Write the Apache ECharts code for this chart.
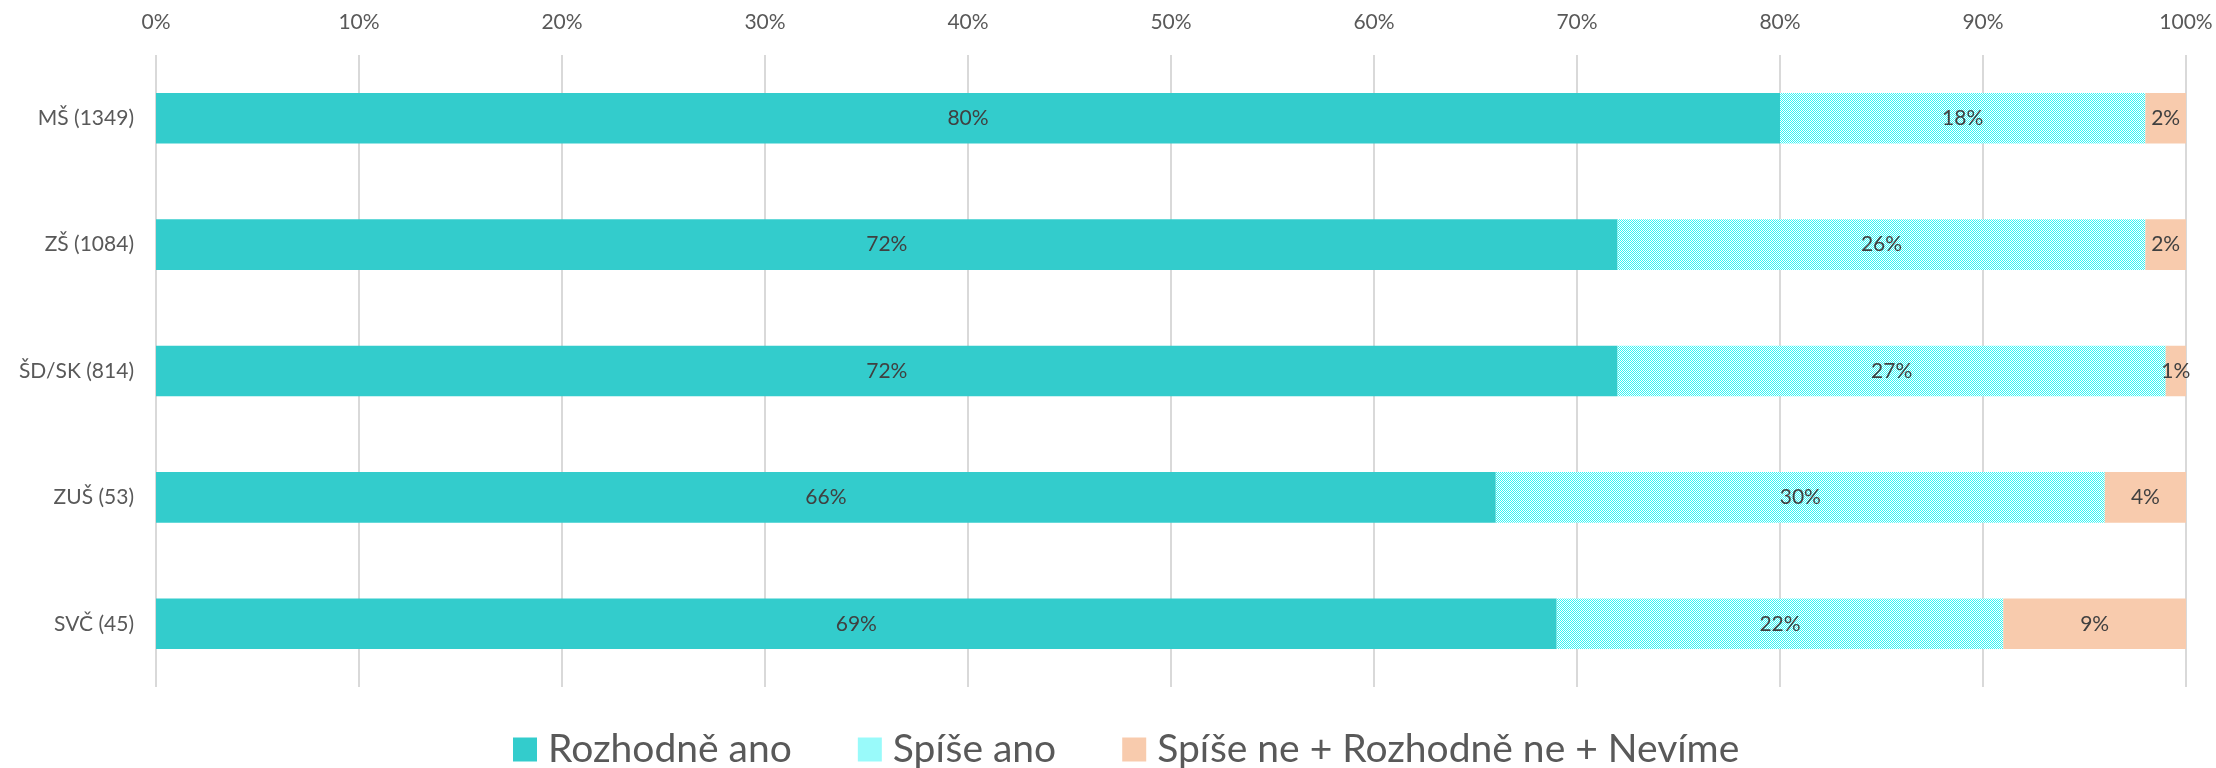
<!DOCTYPE html>
<html>
<head>
<meta charset="utf-8">
<script src="https://cdn.jsdelivr.net/npm/echarts@6/dist/echarts.min.js"></script>
<style>
html,body{margin:0;padding:0;background:#fff;}
#chart{width:2216px;height:768px;}
</style>
</head>
<body>
<div id="chart"></div>
<script>
var categories = ['MŠ (1349)', 'ZŠ (1084)', 'ŠD/SK (814)', 'ZUŠ (53)', 'SVČ (45)'];
var seriesNames = ['Rozhodně ano', 'Spíše ano', 'Spíše ne + Rozhodně ne + Nevíme'];
var rozhodneAno = [80, 72, 72, 66, 69];
var spiseAno = [18, 26, 27, 30, 22];
var ostatni = [2, 2, 1, 4, 9];
var tickLabels = ['0%','10%','20%','30%','40%','50%','60%','70%','80%','90%','100%'];

// checkerboard pattern for "Spíše ano"
function makePattern() {
    var c = document.createElement('canvas');
    c.width = 4; c.height = 4;
    var ctx = c.getContext('2d');
    ctx.fillStyle = '#ffffff';
    ctx.fillRect(0, 0, 4, 4);
    ctx.fillStyle = '#33f5f5';
    for (var y = 0; y < 4; y++) {
        for (var x = 0; x < 4; x++) {
            if ((x + y) % 2 === 0) ctx.fillRect(x, y, 1, 1);
        }
    }
    return c;
}
var pattern = {image: makePattern(), repeat: 'repeat'};

var font = 'Lato, "Open Sans", sans-serif';
var labelStyle = {
    show: true,
    position: 'inside',
    formatter: '{c}%',
    color: '#404040',
    fontSize: 21,
    fontFamily: font
};

var chart = echarts.init(document.getElementById('chart'));
chart.setOption({
    animation: false,
    textStyle: {fontFamily: font},
    grid: {left: 156, right: 30, top: 55, bottom: 81},
    legend: {
        top: 725,
        left: 508,
        itemWidth: 24,
        itemHeight: 24,
        itemGap: 66,
        icon: 'rect',
        textStyle: {fontSize: 39, color: '#595959', fontFamily: font, padding: [0, 0, 0, 6]},
        data: seriesNames
    },
    xAxis: {
        type: 'value',
        position: 'top',
        min: 0,
        max: 100,
        interval: 10,
        axisLine: {show: false},
        axisTick: {show: false},
        axisLabel: {
            color: '#595959',
            fontSize: 21,
            margin: 22,
            formatter: function (v) { return tickLabels[Math.round(v / 10)]; }
        },
        splitLine: {lineStyle: {color: '#d9d9d9', width: 2}}
    },
    yAxis: {
        type: 'category',
        inverse: true,
        data: categories,
        axisLine: {show: false},
        axisTick: {show: false},
        axisLabel: {color: '#595959', fontSize: 21, margin: 22}
    },
    series: [
        {name: seriesNames[0], type: 'bar', stack: 'a', barWidth: '40%',
         data: rozhodneAno, itemStyle: {color: '#33cccc'}, label: labelStyle},
        {name: seriesNames[1], type: 'bar', stack: 'a',
         data: spiseAno, itemStyle: {color: pattern}, label: labelStyle},
        {name: seriesNames[2], type: 'bar', stack: 'a',
         data: ostatni, itemStyle: {color: '#f8cbad'}, label: labelStyle}
    ]
});
</script>
</body>
</html>
